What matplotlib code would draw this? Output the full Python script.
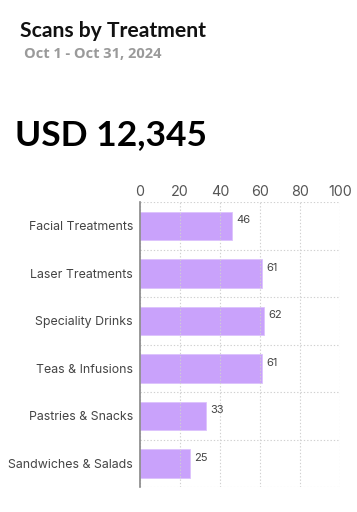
import matplotlib.pyplot as plt
import numpy as np

# chart data
categories = ["Facial Treatments", "Laser Treatments", "Speciality Drinks",
              "Teas & Infusions", "Pastries & Snacks", "Sandwiches & Salads"]
scans = [46, 61, 62, 61, 33, 25]
x_ticks = [0, 20, 40, 60, 80, 100]

title = "Scans by Treatment"
subtitle = "Oct 1 - Oct 31, 2024"
headline = "USD 12,345"

plt.rcParams['font.family'] = ['Inter', 'DejaVu Sans']

fig = plt.figure(figsize=(3.57, 5.12), dpi=100)
fig.patch.set_facecolor('white')

fig.text(20 / 357, 1 - 37 / 512, title, fontsize=15.2, fontweight='bold',
         color='#111111', family=['Lato', 'DejaVu Sans'])
fig.text(24 / 357, 1 - 58 / 512, subtitle, fontsize=10.5, fontweight='bold',
         color='#9a9a9a', family=['Open Sans', 'DejaVu Sans'])
fig.text(15 / 357, 1 - 145 / 512, headline, fontsize=25.5, fontweight='bold',
         color='#000000', family=['Lato', 'DejaVu Sans'])

ax = fig.add_axes([140 / 357, 1 - 487 / 512, 200 / 357, 285 / 512])

y = np.arange(len(categories))
bars = ax.barh(y, scans, height=0.6, color='#c9a2fb', edgecolor='#dcc2fc',
               linewidth=0.6, zorder=2)

for yi, v in zip(y, scans):
    ax.text(v + 2, yi - 0.12, str(v), va='center', ha='left',
            fontsize=8, color='#444444')

ax.set_xlim(0, 100)
ax.set_ylim(len(categories) - 0.5, -0.5)
ax.set_xticks(x_ticks)
ax.xaxis.tick_top()
ax.tick_params(axis='x', length=0, pad=2, labelsize=10.3, labelcolor='#555555')
ax.set_yticks(y)
ax.set_yticklabels(categories)
ax.tick_params(axis='y', length=0, pad=5, labelsize=8.9, labelcolor='#444444')

# grid: vertical at ticks, horizontal between categories
for xv in x_ticks:
    ax.axvline(xv, color='#d0d0d0', lw=0.8, ls=(0, (1.2, 1.8)), zorder=3)
for b in np.arange(-0.5, len(categories), 1.0):
    ax.axhline(b, color='#d0d0d0', lw=0.8, ls=(0, (1.2, 1.8)), zorder=1)

for s in ['top', 'right', 'bottom']:
    ax.spines[s].set_visible(False)
ax.spines['left'].set_color('#888888')
ax.spines['left'].set_linewidth(1.2)
ax.spines['left'].set_zorder(4)

fig.savefig('out.png', dpi=100, facecolor='white')
